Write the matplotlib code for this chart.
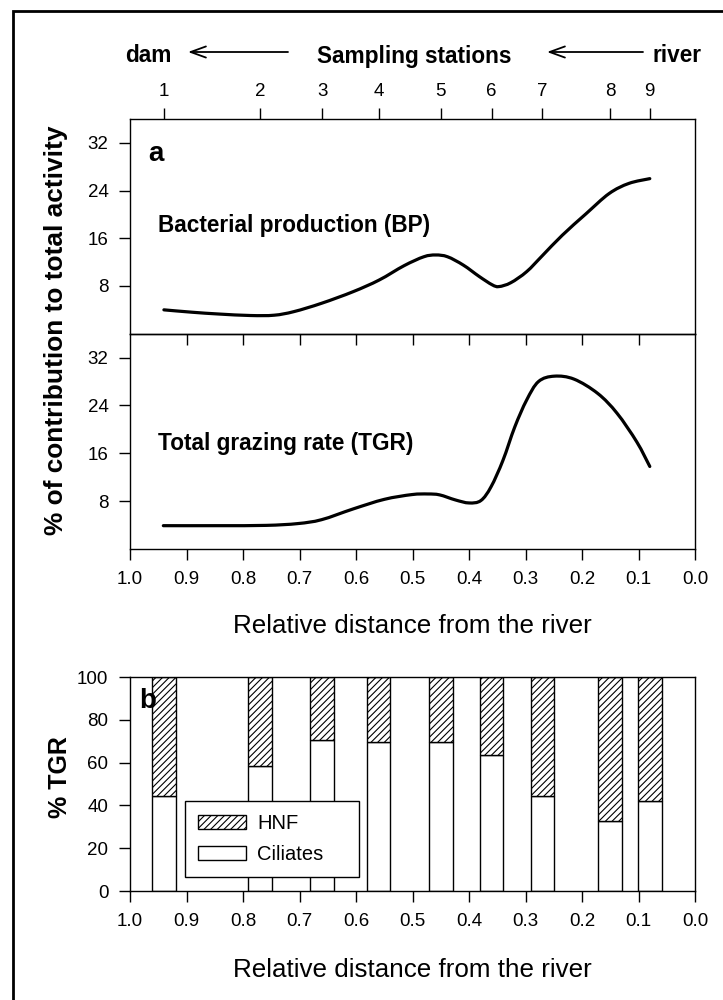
import matplotlib
matplotlib.use('Agg')
import matplotlib.pyplot as plt
from matplotlib.patches import Rectangle, PathPatch, FancyArrowPatch
from matplotlib.path import Path

plt.rcParams['font.family'] = ['Liberation Sans', 'DejaVu Sans']
plt.rcParams['hatch.linewidth'] = 0.8

# sampling stations and their relative distance from the river
station_labels = ['1', '2', '3', '4', '5', '6', '7', '8', '9']
station_dist = [0.94, 0.77, 0.66, 0.56, 0.45, 0.36, 0.27, 0.15, 0.08]

# panel a: curves (% of total activity)
bp_dist = [0.940, 0.890, 0.843, 0.787, 0.745, 0.710, 0.661, 0.605, 0.559, 0.515,
           0.480, 0.459, 0.438, 0.410, 0.382, 0.359, 0.347, 0.326, 0.298, 0.270,
           0.235, 0.193, 0.152, 0.117, 0.080]
bp_val = [4.0, 3.6, 3.3, 3.05, 3.1, 3.7, 5.1, 7.05, 9.0, 11.4,
          12.9, 13.2, 12.9, 11.5, 9.6, 8.2, 7.9, 8.55, 10.4, 13.1,
          16.5, 20.1, 23.5, 25.2, 26.0]

tgr_dist = [0.941, 0.843, 0.759, 0.703, 0.661, 0.605, 0.550, 0.501, 0.473, 0.452,
            0.424, 0.400, 0.379, 0.361, 0.340, 0.319, 0.298, 0.277, 0.249, 0.214,
            0.172, 0.138, 0.103, 0.080]
tgr_val = [3.9, 3.9, 3.95, 4.25, 4.9, 6.7, 8.3, 9.1, 9.2, 9.05,
           8.2, 7.7, 8.1, 10.4, 14.8, 20.4, 24.9, 28.0, 28.9, 28.4,
           26.0, 22.7, 17.9, 13.8]

# panel b: share of total grazing rate (%)
ciliates = [44.5, 58.5, 70.5, 69.5, 69.5, 63.5, 44.5, 32.5, 42.0]
hnf = [55.5, 41.5, 29.5, 30.5, 30.5, 36.5, 55.5, 67.5, 58.0]

dist_ticks = [1.0, 0.9, 0.8, 0.7, 0.6, 0.5, 0.4, 0.3, 0.2, 0.1, 0.0]
dist_labels = ['1.0', '0.9', '0.8', '0.7', '0.6', '0.5', '0.4', '0.3', '0.2', '0.1', '0.0']


def smooth_curve(ax, xs, ys):
    # draw the read points as one smooth bezier path (catmull-rom)
    pts = list(zip(xs, ys))
    ext = [pts[0]] + pts + [pts[-1]]
    verts = [pts[0]]
    codes = [Path.MOVETO]
    for i in range(1, len(ext) - 2):
        p0, p1, p2, p3 = ext[i - 1], ext[i], ext[i + 1], ext[i + 2]
        c1 = (p1[0] + (p2[0] - p0[0]) / 6, p1[1] + (p2[1] - p0[1]) / 6)
        c2 = (p2[0] - (p3[0] - p1[0]) / 6, p2[1] - (p3[1] - p1[1]) / 6)
        verts += [c1, c2, p2]
        codes += [Path.CURVE4] * 3
    ax.add_patch(PathPatch(Path(verts, codes), fill=False, lw=2.3,
                           edgecolor='black', capstyle='round',
                           joinstyle='round'))


W, H = 723, 1000
fig = plt.figure(figsize=(W / 100, H / 100), dpi=100)

L = 130 / W
AW = 565 / W
ax1 = fig.add_axes([L, 1 - 333.7 / H, AW, 214.7 / H])
ax2 = fig.add_axes([L, 1 - 549 / H, AW, 215.3 / H])
ax3 = fig.add_axes([L, 1 - 891 / H, AW, 214 / H])

tick_kw = dict(length=8, width=1.0, labelsize=13.5, color='black')
bold_size = 16.3

for ax in (ax1, ax2, ax3):
    ax.set_xlim(1.0, 0.0)
    for s in ax.spines.values():
        s.set_linewidth(1.0)
    ax.tick_params(axis='y', direction='out', pad=7.5, **tick_kw)

# panel a, upper part (BP)
smooth_curve(ax1, bp_dist, bp_val)
ax1.set_ylim(0, 36)
ax1.set_yticks([8, 16, 24, 32])
ax1.xaxis.tick_top()
ax1.set_xticks(station_dist, station_labels)
ax1.tick_params(axis='x', direction='out', pad=5.5, **tick_kw)
ax1.spines['bottom'].set_visible(False)
ax1.text(0.032, 0.804, 'a', transform=ax1.transAxes, fontsize=20,
         fontweight='bold', va='baseline')
ax1.text(0.049, 0.474, 'Bacterial production (BP)', transform=ax1.transAxes,
         fontsize=bold_size, fontweight='bold', va='baseline')

# panel a, lower part (TGR)
smooth_curve(ax2, tgr_dist, tgr_val)
ax2.set_ylim(0, 36)
ax2.set_yticks([8, 16, 24, 32])
ax2.set_xticks(dist_ticks, dist_labels)
ax2.tick_params(axis='x', direction='out', pad=7.5, **tick_kw)
sec = ax2.secondary_xaxis('top')
sec.set_xticks(dist_ticks[1:-1])
sec.tick_params(axis='x', direction='in', labeltop=False, length=8, width=1.0)
sec.spines['top'].set_linewidth(1.0)
ax2.text(0.049, 0.46, 'Total grazing rate (TGR)', transform=ax2.transAxes,
         fontsize=bold_size, fontweight='bold', va='baseline')

# panel b
bw = 0.042
ax3.bar(station_dist, ciliates, width=bw, color='white', edgecolor='black',
        linewidth=1.0, label='Ciliates')
ax3.bar(station_dist, hnf, width=bw, bottom=ciliates, color='white',
        edgecolor='black', linewidth=1.0, hatch='/////', label='HNF')
ax3.set_ylim(0, 100)
ax3.set_yticks([0, 20, 40, 60, 80, 100])
ax3.set_xticks(dist_ticks, dist_labels)
ax3.tick_params(axis='x', direction='out', pad=7.5, **tick_kw)
ax3.text(0.016, 0.855, 'b', transform=ax3.transAxes, fontsize=20,
         fontweight='bold', va='baseline')
handles, labels = ax3.get_legend_handles_labels()
leg = ax3.legend(handles[::-1], labels[::-1], loc='upper left',
                 bbox_to_anchor=(0.0973, 0.0654, 0.308, 0.355), mode='expand',
                 borderaxespad=0, fontsize=14.5, fancybox=False, framealpha=1,
                 edgecolor='black', handlelength=2.4, handleheight=0.7,
                 handletextpad=0.55, borderpad=0.65, labelspacing=0.6)
leg.get_frame().set_linewidth(1.0)

# axis titles
fig.text(63 / W, 1 - 330.5 / H, '% of contribution to total activity',
         rotation=90, rotation_mode='anchor', ha='center', va='baseline',
         fontsize=18.9, fontweight='bold')
fig.text(67 / W, 1 - 777.5 / H, '% TGR', rotation=90, rotation_mode='anchor',
         ha='center', va='baseline', fontsize=18, fontweight='bold')
fig.text(412.5 / W, 1 - 633 / H, 'Relative distance from the river',
         ha='center', va='baseline', fontsize=18.7)
fig.text(412.5 / W, 1 - 977 / H, 'Relative distance from the river',
         ha='center', va='baseline', fontsize=18.7)

# header with the direction of the flow
fig.text(125 / W, 1 - 62.5 / H, 'dam', ha='left', va='baseline',
         fontsize=bold_size, fontweight='bold')
fig.text(414.5 / W, 1 - 62.5 / H, 'Sampling stations', ha='center',
         va='baseline', fontsize=bold_size, fontweight='bold')
fig.text(677 / W, 1 - 62.5 / H, 'river', ha='center', va='baseline',
         fontsize=bold_size, fontweight='bold')
for x_head, x_tail in [(188, 288), (547, 643)]:
    fig.patches.append(FancyArrowPatch(
        (x_tail / W, 1 - 52 / H), (x_head / W, 1 - 52 / H),
        transform=fig.transFigure,
        arrowstyle='->, head_length=1.1, head_width=0.4', mutation_scale=10,
        lw=1.3, color='black', shrinkA=0, shrinkB=0))

# outer frame (cut by the image edge on the right and bottom)
fig.patches.append(Rectangle((13 / W, -0.1), 1.2, 1.1 - 11 / H,
                             transform=fig.transFigure, fill=False,
                             lw=2.0, edgecolor='black'))

fig.savefig('out.png', dpi=100)
